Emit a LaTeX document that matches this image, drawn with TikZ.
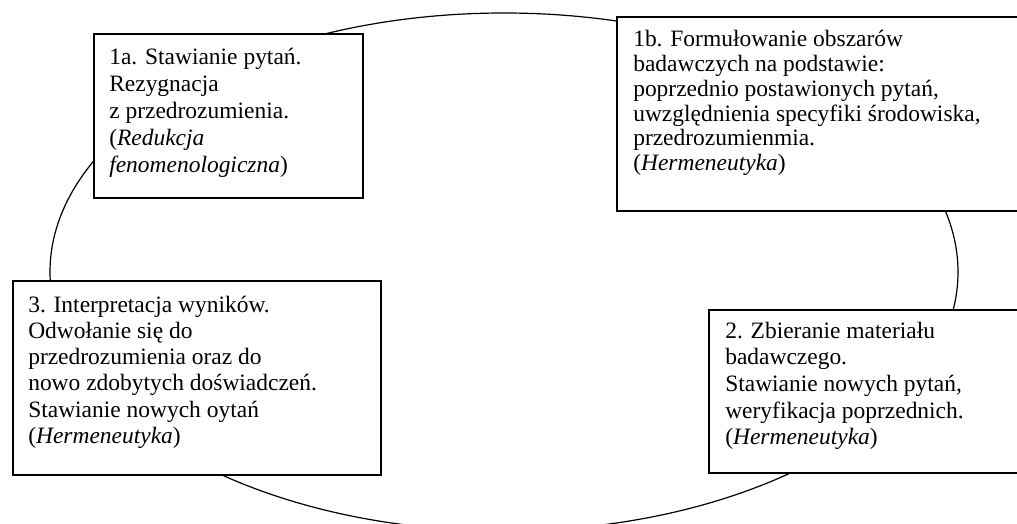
\documentclass[tikz,border=0pt]{standalone}
\usepackage{fontspec}
\setmainfont{Liberation Serif}
\usetikzlibrary{positioning}
\tikzset{
  frame/.style={draw, line width=1.5pt, fill=white, anchor=north west, inner sep=0pt},
  txtline/.style={anchor=base west, inner sep=0pt, font=\fontsize{17.6}{20}\selectfont},
  cycle line/.style={draw, line width=0.9pt},
}

\begin{document}
\begin{tikzpicture}[x=0.75pt,y=-0.75pt]
  \useasboundingbox (0,0) rectangle (1017,524);
  \clip (0,0) rectangle (1017,524);
  % the ellipse behind the four stages
  \draw[cycle line] (504,272) ellipse [x radius=340.5pt, y radius=194.25pt];
  % frames
  \node[frame, minimum width=201.75pt, minimum height=123pt] (b1a) at (93,33) {};
  \node[frame, minimum width=310.5pt, minimum height=145.5pt] (b1b) at (616,16) {};
  \node[frame, minimum width=276pt, minimum height=145.5pt] (b3) at (12,280) {};
  \node[frame, minimum width=241.5pt, minimum height=122.25pt] (b2) at (708,309) {};
  % texts, line by line
  \foreach \t [count=\i from 0] in {{1a. Stawianie pytań.}, {Rezygnacja},
      {z przedrozumienia.}, {(\textit{Redukcja}}, {\textit{fenomenologiczna})}}
    \node[txtline] (t1a-\i) at ([shift={(16,32+27*\i)}]b1a.north west) {\t};
  \foreach \t [count=\i from 0] in {{1b. Formułowanie obszarów},
      {badawczych na podstawie:}, {poprzednio postawionych pytań,},
      {uwzględnienia specyfiki środowiska,}, {przedrozumienmia.},
      {(\textit{Hermeneutyka})}}
    \node[txtline] (t1b-\i) at ([shift={(17,31+24.7*\i)}]b1b.north west) {\t};
  \foreach \t [count=\i from 0] in {{3. Interpretacja wyników.}, {Odwołanie się do},
      {przedrozumienia oraz do}, {nowo zdobytych doświadczeń.},
      {Stawianie nowych oytań}, {(\textit{Hermeneutyka})}}
    \node[txtline] (t3-\i) at ([shift={(16,32+26.3*\i)}]b3.north west) {\t};
  \foreach \t [count=\i from 0] in {{2. Zbieranie materiału}, {badawczego.},
      {Stawianie nowych pytań,}, {weryfikacja poprzednich.},
      {(\textit{Hermeneutyka})}}
    \node[txtline] (t2-\i) at ([shift={(17,29+26.7*\i)}]b2.north west) {\t};
\end{tikzpicture}
\end{document}
